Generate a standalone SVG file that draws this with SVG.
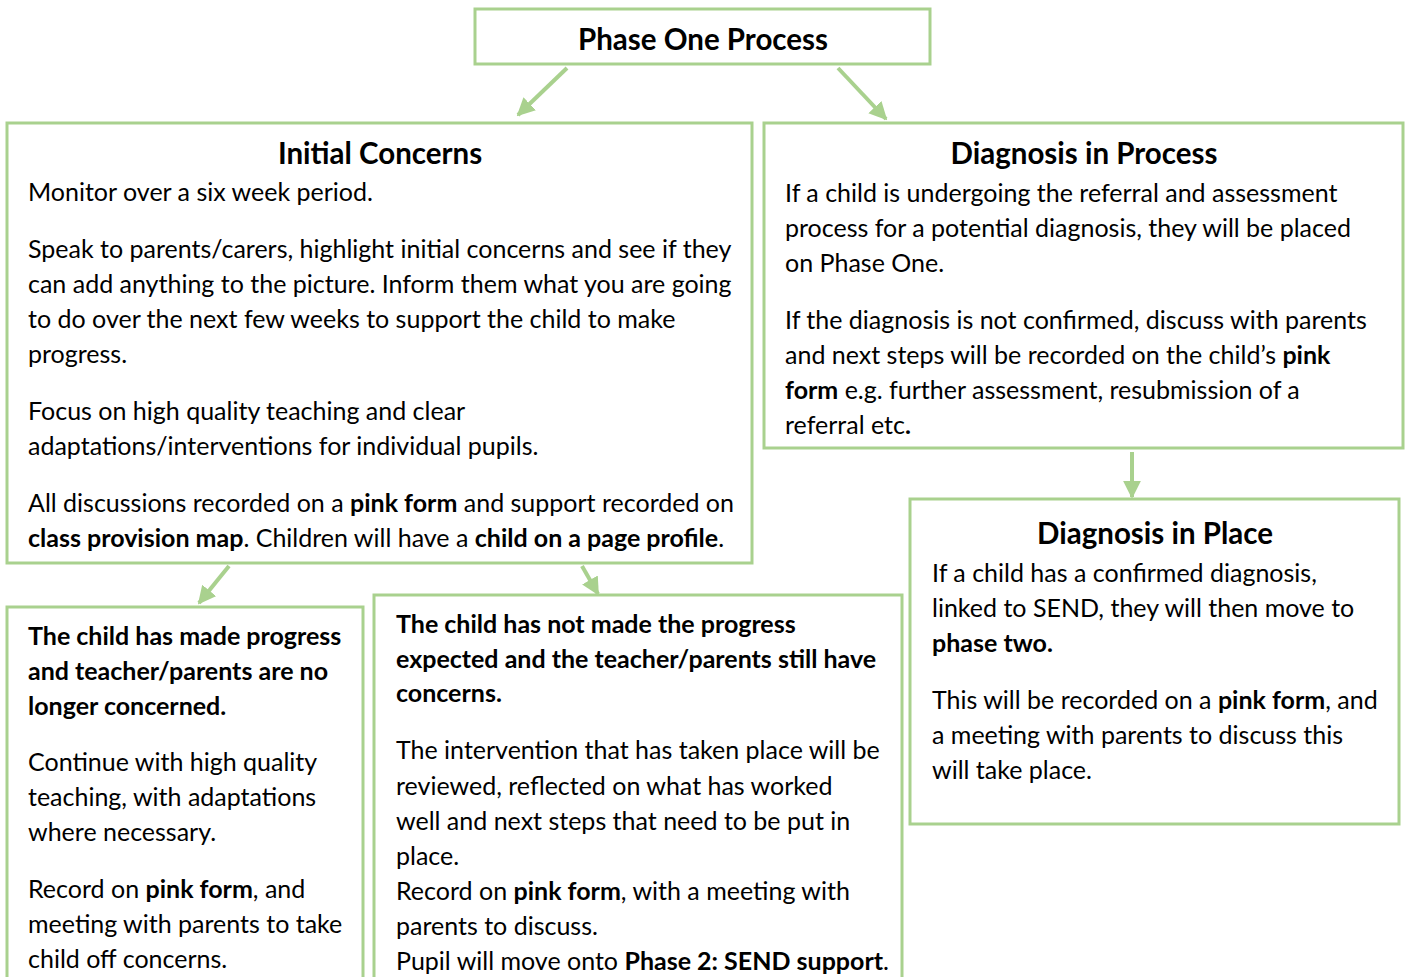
<svg xmlns="http://www.w3.org/2000/svg" width="1409" height="977" viewBox="0 0 1409 977">
<style>
.box{fill:#fff;stroke:#a9d18e;stroke-width:3}
.con{stroke:#a9d18e;stroke-width:4;fill:none;marker-end:url(#ah)}
text{font-family:Lato,"Liberation Sans",sans-serif;font-size:25px;fill:#000}
.h{font-weight:bold;font-size:29.5px;text-anchor:middle}
.b{font-weight:bold}
</style>
<defs>
<marker id="ah" viewBox="0 0 10 10" refX="9" refY="5" markerWidth="4.5" markerHeight="4.5" orient="auto" markerUnits="strokeWidth">
<path d="M0,0 L10,5 L0,10 z" fill="#a9d18e"/>
</marker>
</defs>
<g id="connectors">
<line class="con" x1="567" y1="68" x2="518" y2="115"/>
<line class="con" x1="838" y1="68" x2="886" y2="119"/>
<line class="con" x1="1132" y1="452" x2="1132" y2="497"/>
<line class="con" x1="229" y1="566" x2="199" y2="603"/>
<line class="con" x1="582" y1="566" x2="598" y2="594"/>
</g>
<g id="phase-one">
<rect class="box" x="475" y="9" width="455" height="55"/>
<text class="h" x="703" y="50">Phase One Process</text>
</g>
<g id="initial-concerns">
<rect class="box" x="7" y="123" width="745" height="440"/>
<text class="h" x="380" y="164">Initial Concerns</text>
<text x="28" y="201">Monitor over a six week period.</text>
<text x="28" y="258">Speak to parents/carers, highlight initial concerns and see if they</text>
<text x="28" y="293">can add anything to the picture. Inform them what you are going</text>
<text x="28" y="328">to do over the next few weeks to support the child to make</text>
<text x="28" y="363">progress.</text>
<text x="28" y="420">Focus on high quality teaching and clear</text>
<text x="28" y="455">adaptations/interventions for individual pupils.</text>
<text x="28" y="512">All discussions recorded on a <tspan class="b">pink form</tspan> and support recorded on</text>
<text x="28" y="547"><tspan class="b">class provision map</tspan>. Children will have a <tspan class="b">child on a page profile</tspan>.</text>
</g>
<g id="diagnosis-in-process">
<rect class="box" x="764" y="123" width="639" height="325"/>
<text class="h" x="1084" y="164">Diagnosis in Process</text>
<text x="785" y="202">If a child is undergoing the referral and assessment</text>
<text x="785" y="237">process for a potential diagnosis, they will be placed</text>
<text x="785" y="272">on Phase One.</text>
<text x="785" y="329">If the diagnosis is not confirmed, discuss with parents</text>
<text x="785" y="364">and next steps will be recorded on the child’s <tspan class="b">pink</tspan></text>
<text x="785" y="399"><tspan class="b">form</tspan> e.g. further assessment, resubmission of a</text>
<text x="785" y="434">referral etc<tspan class="b">.</tspan></text>
</g>
<g id="diagnosis-in-place">
<rect class="box" x="910" y="499" width="489" height="325"/>
<text class="h" x="1155" y="544">Diagnosis in Place</text>
<text x="932" y="582">If a child has a confirmed diagnosis,</text>
<text x="932" y="617">linked to SEND, they will then move to</text>
<text x="932" y="652" class="b">phase two.</text>
<text x="932" y="709">This will be recorded on a <tspan class="b">pink form</tspan>, and</text>
<text x="932" y="744">a meeting with parents to discuss this</text>
<text x="932" y="779">will take place.</text>
</g>
<g id="made-progress">
<rect class="box" x="7" y="607" width="356" height="380"/>
<text x="28" y="645" class="b">The child has made progress</text>
<text x="28" y="680" class="b">and teacher/parents are no</text>
<text x="28" y="715" class="b">longer concerned.</text>
<text x="28" y="771">Continue with high quality</text>
<text x="28" y="806">teaching, with adaptations</text>
<text x="28" y="841">where necessary.</text>
<text x="28" y="898">Record on <tspan class="b">pink form</tspan>, and</text>
<text x="28" y="933">meeting with parents to take</text>
<text x="28" y="968">child off concerns.</text>
</g>
<g id="not-made-progress">
<rect class="box" x="374" y="595" width="528" height="392"/>
<text x="396" y="633" class="b">The child has not made the progress</text>
<text x="396" y="668" class="b">expected and the teacher/parents still have</text>
<text x="396" y="702" class="b">concerns.</text>
<text x="396" y="759">The intervention that has taken place will be</text>
<text x="396" y="795">reviewed, reflected on what has worked</text>
<text x="396" y="830">well and next steps that need to be put in</text>
<text x="396" y="865">place.</text>
<text x="396" y="900">Record on <tspan class="b">pink form</tspan>, with a meeting with</text>
<text x="396" y="935">parents to discuss.</text>
<text x="396" y="970">Pupil will move onto <tspan class="b">Phase 2: SEND support</tspan>.</text>
</g>
</svg>
